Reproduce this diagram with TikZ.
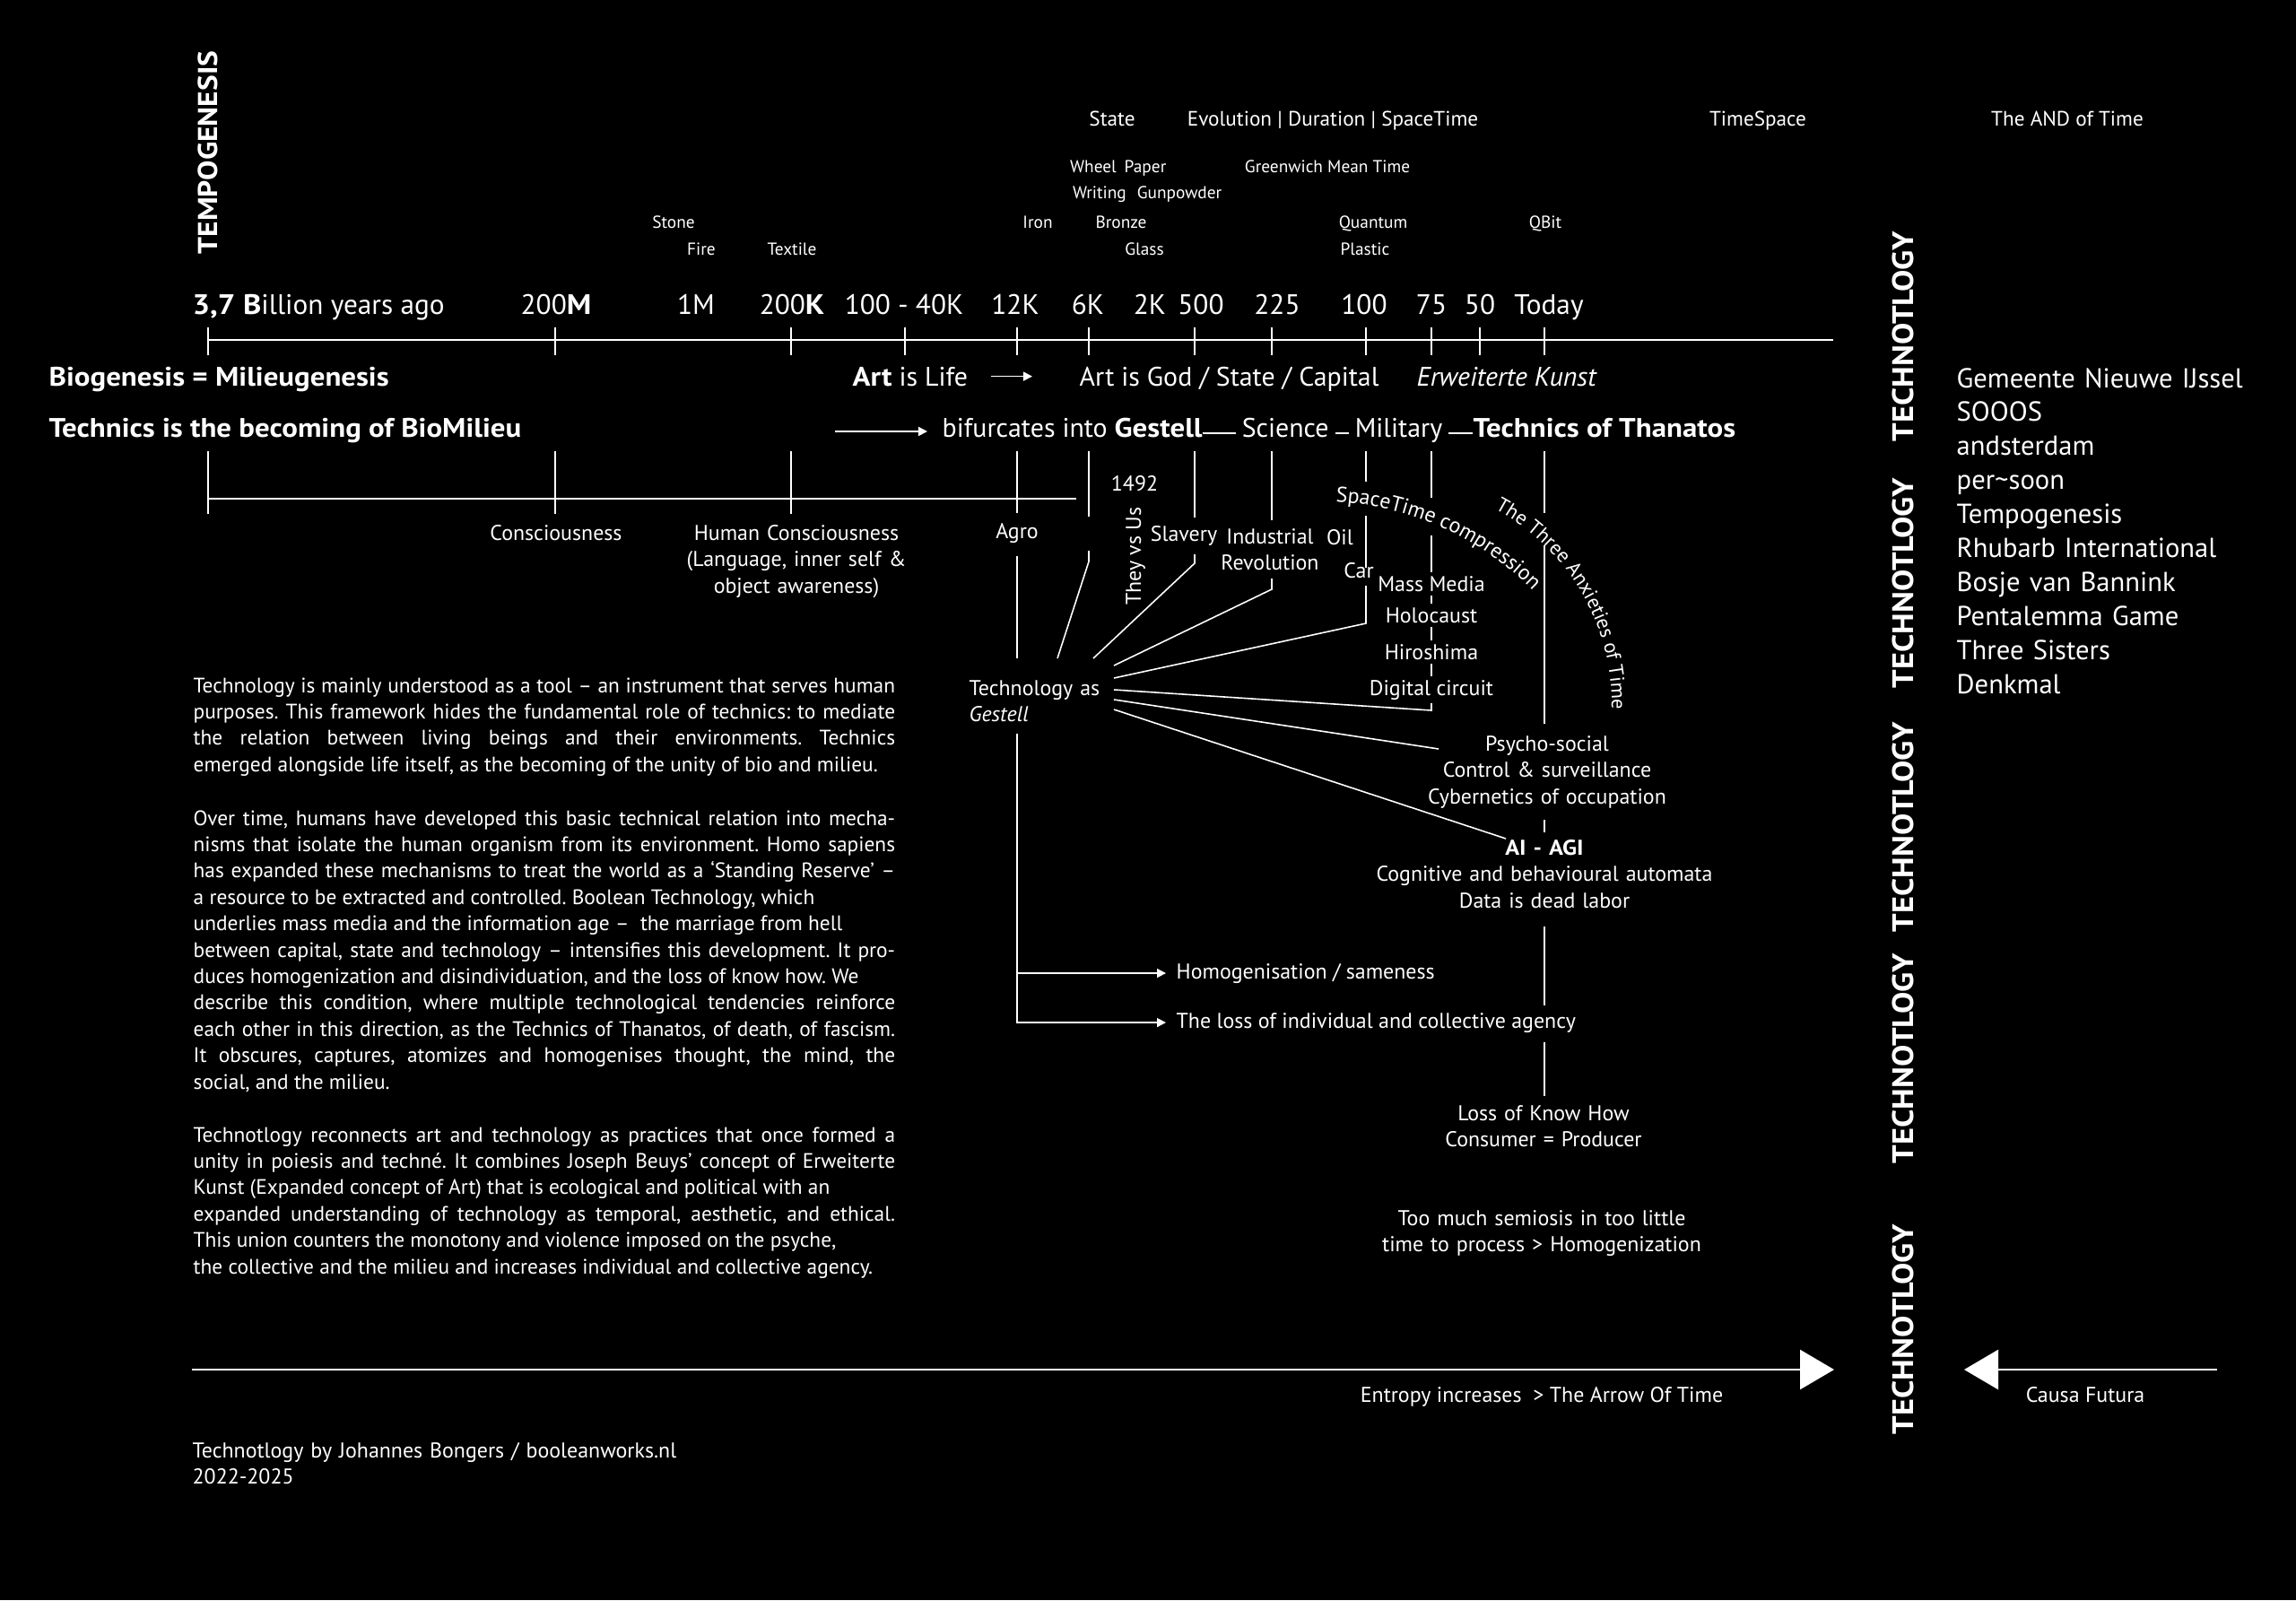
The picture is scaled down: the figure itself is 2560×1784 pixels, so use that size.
\documentclass[tikz,border=0pt]{standalone}
\usepackage{fontspec}
\setmainfont{PT Sans}[BoldFeatures={FakeStretch=1.1}]
\usetikzlibrary{arrows.meta,decorations.text}

\begin{document}
\begin{tikzpicture}[
  x=0.01cm, y=0.01cm,
  every node/.style={text=white, inner sep=0pt},
  hdr/.style={font=\fontsize{6.6}{8}\selectfont, anchor=base},
  mini/.style={font=\fontsize{5.5}{6.6}\selectfont, anchor=base},
  yrlab/.style={font=\fontsize{8.9}{10.6}\selectfont, anchor=base},
  rowlab/.style={font=\fontsize{8.5}{10}\selectfont, anchor=base west},
  midlab/.style={font=\fontsize{6.8}{8.4}\selectfont, anchor=base},
  blocklab/.style={font=\fontsize{6.8}{8.4}\selectfont, anchor=base, align=center, text width=4.2cm},
  masklab/.style={midlab, fill=black, inner xsep=1.5pt, inner ysep=1.2pt},
  para/.style={font=\fontsize{6.65}{8.36}\selectfont, anchor=base west, align=justify, text width=7.82cm,
               execute at begin node={\frenchspacing\tolerance=10000\relax\hyphenpenalty=10000\relax}},
  vlab/.style={font=\fontsize{9.4}{11}\selectfont\bfseries, rotate=90},
  orglab/.style={font=\fontsize{8.7}{10.8}\selectfont, anchor=base west, align=left, text width=4cm},
  axisline/.style={color=white!82, line width=0.75pt},
  wline/.style={color=white, line width=0.45pt},
  gline/.style={color=white!55, line width=0.45pt},
  smalltip/.style={-{Triangle[length=0.1cm, width=0.1cm]}},
  bigtip/.style={color=white, line width=0.75pt, -{Triangle[length=0.38cm, width=0.44cm]}},
]
\useasboundingbox (0,0) rectangle (2560,-1784);
\fill[black] (0,0) rectangle (2560,-1784);

\node[vlab, font=\fontsize{8.65}{10}\selectfont\bfseries] (tempo) at (232,-170) {TEMPOGENESIS};

\node[hdr] (state) at (1240,-140) {State};
\node[hdr] (evo) at (1486,-140) {Evolution | Duration | SpaceTime};
\node[hdr] (tspace) at (1960,-140) {TimeSpace};
\node[hdr] (andtime) at (2305,-140) {The AND of Time};

\node[mini] (wheel) at (1219,-192) {Wheel};
\node[mini] (paper) at (1277,-192) {Paper};
\node[mini] (gmt) at (1480,-192) {Greenwich Mean Time};
\node[mini] (writing) at (1226,-221) {Writing};
\node[mini] (gunpowder) at (1315,-221) {Gunpowder};
\node[mini] (stone) at (751,-254) {Stone};
\node[mini] (iron) at (1157,-254) {Iron};
\node[mini] (bronze) at (1250,-254) {Bronze};
\node[mini] (quantum) at (1531,-254) {Quantum};
\node[mini] (qbit) at (1723,-254) {QBit};
\node[mini] (fire) at (782,-284) {Fire};
\node[mini] (textile) at (883,-284) {Textile};
\node[mini] (glass) at (1276,-284) {Glass};
\node[mini] (plastic) at (1522,-284) {Plastic};

\node[yrlab, anchor=base west] (y37) at (214,-350) {\textbf{3,7 B}illion years ago};
\node[yrlab] (y200m) at (620,-350) {200\textbf{M}};
\node[yrlab] (y1m) at (776,-350) {1M};
\node[yrlab] (y200k) at (883,-350) {200\textbf{K}};
\node[yrlab] (y100k) at (1008,-350) {100 - 40K};
\node[yrlab] (y12k) at (1132,-350) {12K};
\node[yrlab] (y6k) at (1213,-350) {6K};
\node[yrlab] (y2k) at (1282,-350) {2K};
\node[yrlab] (y500) at (1339,-350) {500};
\node[yrlab] (y225) at (1424,-350) {225};
\node[yrlab] (y100) at (1521,-350) {100};
\node[yrlab] (y75) at (1596,-350) {75};
\node[yrlab] (y50) at (1650,-350) {50};
\node[yrlab] (ytoday) at (1727,-350) {Today};

\draw[axisline] (232,-379) -- (2044,-379);
\foreach \x in {232,619,882,1009,1134,1214,1332,1418,1523,1596,1650,1722}
  \draw[wline] (\x,-365) -- (\x,-396);

\node[rowlab] (bio) at (54,-430) {\textbf{Biogenesis = Milieugenesis}};
\node[rowlab] (life) at (950,-430) {\textbf{Art} is Life};
\node[rowlab] (god) at (1203,-430) {Art is God / State / Capital};
\node[rowlab] (kunst) at (1579,-430) {\textit{Erweiterte Kunst}};
\draw[wline, smalltip, shorten <=0.25cm, shorten >=0.52cm] (life.east) -- (life.east -| god.west);

\node[rowlab] (becoming) at (54,-487) {\textbf{Technics is the becoming of BioMilieu}};
\node[rowlab] (gest) at (1050,-487) {bifurcates into \textbf{Gestell}};
\node[rowlab] (than) at (1642,-487) {\textbf{Technics of Thanatos}};
\coordinate (bstart) at (931,-481);
\draw[wline, smalltip, shorten >=0.16cm] (bstart) -- (bstart -| gest.west);
\draw[gline] ([yshift=0.04cm]gest.base east) -- ([yshift=0.04cm]than.base west);
\node[rowlab, fill=black, inner xsep=2pt] (sci) at (1377,-487) {Science};
\node[rowlab, fill=black, inner xsep=2pt] (mil) at (1503,-487) {Military};

\draw[wline] (232,-556) -- (1200,-556);
\foreach \x in {232,619,882}
  \draw[wline] (\x,-503) -- (\x,-573);
\node[midlab] (consc) at (620,-602) {Consciousness};
\node[blocklab] (human) at (888,-602) {Human Consciousness\\(Language, inner self \&\\object awareness)};
\node[midlab] (agro) at (1134,-600) {Agro};

\node[midlab] (y1492) at (1265,-547) {1492};
\node[midlab, rotate=90] (they) at (1272,-620) {They vs Us};
\node[midlab] (slavery) at (1320,-603) {Slavery};
\node[blocklab] (indus) at (1416,-606) {Industrial\\Revolution};
\node[midlab] (oil) at (1494,-607) {Oil};
\node[midlab] (car) at (1515,-644) {Car};

\node[blocklab, anchor=base west, align=left, text width=2cm] (tg) at (1080,-775) {Technology as\\\textit{Gestell}};

\coordinate (h6k) at (1179,-734);
\coordinate (hsl) at (1219,-734);
\coordinate (hin) at (1242,-742);
\coordinate (hoil) at (1242,-756);
\coordinate (hmil) at (1242,-769);
\coordinate (hpsy) at (1242,-780);
\coordinate (hai) at (1242,-791);
\coordinate (b6k) at (1214,-626);
\coordinate (bsl) at (1332,-628);
\coordinate (bin) at (1418,-657);
\coordinate (boil) at (1523,-695);
\coordinate (bmil) at (1596,-792);
\coordinate (epsy) at (1604,-835);
\coordinate (eai) at (1679,-935);

\draw[wline] (1134,-503) -- (1134,-572);
\draw[wline] (agro.south) ++(0,-0.14cm) -- (agro |- h6k);
\draw[wline] (1214,-503) -- (1214,-576);
\draw[wline] (1214,-614) -- (b6k) -- (h6k);
\draw[wline] (1332,-503) -- (1332,-577);
\draw[wline] (1332,-618) -- (bsl) -- (hsl);
\draw[wline] (1418,-503) -- (1418,-580);
\draw[wline] (1418,-645) -- (bin) -- (hin);
\draw[wline] (1523,-503) -- (1523,-537);
\draw[wline] (1523,-575) -- (1523,-633);
\draw[wline] (1523,-653) -- (boil) -- (hoil);
\draw[wline] (1596,-503) -- (1596,-555);
\draw[wline] (1596,-597) -- (bmil) -- (hmil);
\draw[wline] (hpsy) -- (epsy);
\draw[wline] (hai) -- (eai);
\draw[wline] (1722,-503) -- (1722,-572);
\draw[wline] (1722,-608) -- (1722,-807);
\draw[wline] (1722,-914) -- (1722,-928);
\draw[wline] (1722,-1033) -- (1722,-1121);
\draw[wline] (1722,-1162) -- (1722,-1222);

\node[masklab] (media) at (1596,-659) {Mass Media};
\node[masklab] (holo) at (1596,-694) {Holocaust};
\node[masklab] (hiro) at (1596,-735) {Hiroshima};
\node[masklab] (digital) at (1596,-775) {Digital circuit};

\path[decorate, decoration={text along path, text color=white,
  text={|\fontsize{6.8}{8}\selectfont|SpaceTime compression}}]
  (1472,-891) ++(87:332) arc[start angle=87, end angle=25, radius=332];
\path[decorate, decoration={text along path, text color=white,
  text={|\fontsize{6.4}{8}\selectfont|The Three Anxieties of Time}}]
  (1551,-785) ++(62:246) arc[start angle=62, end angle=-25, radius=246];

\node[blocklab] (psycho) at (1725,-837) {Psycho-social\\Control \& surveillance\\Cybernetics of occupation};
\node[blocklab] (ai) at (1722,-953) {\textbf{AI - AGI}\\Cognitive and behavioural automata\\Data is dead labor};

\node[midlab, anchor=base west] (homog) at (1311,-1091) {Homogenisation / sameness};
\node[midlab, anchor=base west] (loss) at (1311,-1146) {The loss of individual and collective agency};
\draw[wline, smalltip, shorten >=0.11cm] (agro |- homog.west) -- (homog.west);
\draw[wline, smalltip, shorten >=0.11cm] (agro |- tg.south) ++(0,-0.12cm) |- (loss.west);

\node[blocklab] (knowhow) at (1721,-1249) {Loss of Know How\\Consumer = Producer};
\node[blocklab] (semiosis) at (1719,-1366) {Too much semiosis in too little\\time to process > Homogenization};

\node[para] (p1) at (215,-772) {Technology is mainly understood as a tool – an instrument that serves human\linebreak
purposes. This framework hides the fundamental role of technics: to mediate\linebreak
the relation between living beings and their environments. Technics\linebreak
emerged alongside life itself, as the becoming of the unity of bio and milieu.};
\node[para] (p2) at (215,-920) {Over time, humans have developed this basic technical relation into mecha-\linebreak
nisms that isolate the human organism from its environment. Homo sapiens\linebreak
has expanded these mechanisms to treat the world as a ‘Standing Reserve’ –\linebreak
a resource to be extracted and controlled. Boolean Technology, which\newline
underlies mass media and the information age – \ the marriage from hell\newline
between capital, state and technology – intensifies this development. It pro-\linebreak
duces homogenization and disindividuation, and the loss of know how. We\newline
describe this condition, where multiple technological tendencies reinforce\linebreak
each other in this direction, as the Technics of Thanatos, of death, of fascism.\linebreak
It obscures, captures, atomizes and homogenises thought, the mind, the\linebreak
social, and the milieu.};
\node[para] (p3) at (215,-1273) {Technotlogy reconnects art and technology as practices that once formed a\linebreak
unity in poiesis and techné. It combines Joseph Beuys’ concept of Erweiterte\linebreak
Kunst (Expanded concept of Art) that is ecological and political with an\newline
expanded understanding of technology as temporal, aesthetic, and ethical.\linebreak
This union counters the monotony and violence imposed on the psyche,\newline
the collective and the milieu and increases individual and collective agency.};

\foreach \y/\n in {375/1,650/2,922/3,1180/4,1482/5}
  \node[vlab] (techno\n) at (2122,-\y) {TECHNOTLOGY};

\node[orglab] (orgs) at (2181,-432) {Gemeente Nieuwe IJssel\\SOOOS\\andsterdam\\per\textasciitilde soon\\Tempogenesis\\Rhubarb International\\Bosje van Bannink\\Pentalemma Game\\Three Sisters\\Denkmal};

\coordinate (arrowL) at (214,-1527);
\coordinate (arrowR) at (2045,-1527);
\coordinate (futR) at (2472,-1527);
\coordinate (futL) at (2190,-1527);
\draw[bigtip] (arrowL) -- (arrowR);
\draw[bigtip] (futR) -- (futL);
\node[midlab] (entropy) at (1719,-1563) {Entropy increases \ > The Arrow Of Time};
\node[midlab] (causa) at (2325,-1563) {Causa Futura};

\node[blocklab, anchor=base west, align=left, text width=6cm] (credit) at (214,-1625) {Technotlogy by Johannes Bongers / booleanworks.nl\\2022-2025};
\end{tikzpicture}
\end{document}
